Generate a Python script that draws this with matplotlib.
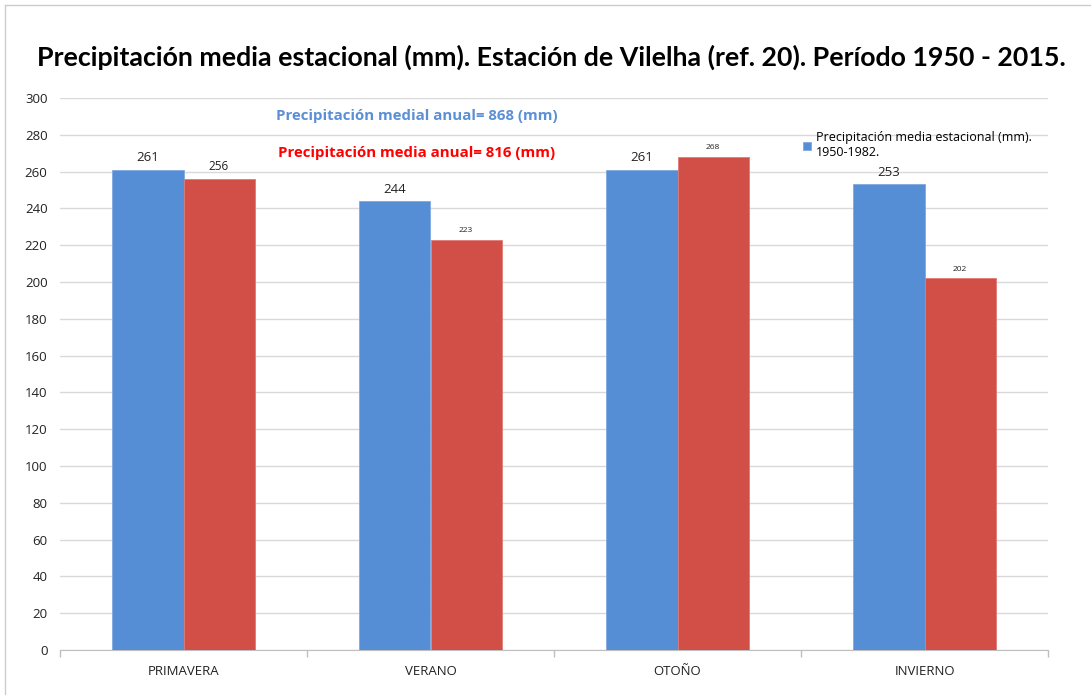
import numpy as np
import matplotlib
matplotlib.use('Agg')
import matplotlib.pyplot as plt
from matplotlib.lines import Line2D

estaciones = ['PRIMAVERA', 'VERANO', 'OTOÑO', 'INVIERNO']
p_1950_1982 = [261, 244, 261, 253]
p_1950_2015 = [256, 223, 268, 202]
red_label_sizes = [8.5, 6, 6, 6]
yticks = list(range(0, 301, 20))

azul = '#558ed5'
rojo = '#d24f48'
plt.rcParams['font.family'] = ['Open Sans', 'DejaVu Sans']

fig = plt.figure(figsize=(10.91, 6.95), dpi=100)
ax = fig.add_axes([60/1091, 1-650/695, 988/1091, 552/695])

x = np.arange(len(estaciones))
w = 0.2875
b1 = ax.bar(x - w/2, p_1950_1982, w, color=azul, edgecolor='#7ea9e1', lw=0.6,
            label='Precipitación media estacional (mm).\n1950-1982.', zorder=3)
b2 = ax.bar(x + w/2, p_1950_2015, w, color=rojo, edgecolor='#e07a74', lw=0.6, zorder=3)

for r, v in zip(b1, p_1950_1982):
    ax.text(r.get_x() + r.get_width()/2, v + 3, str(v), ha='center', va='bottom',
            fontsize=9.5, color='#222222')
for r, v, s in zip(b2, p_1950_2015, red_label_sizes):
    ax.text(r.get_x() + r.get_width()/2, v + 3, str(v), ha='center', va='bottom',
            fontsize=s, color='#222222')

ax.set_xlim(-0.5, 3.5)
ax.set_ylim(0, 300)
ax.set_yticks(yticks)
ax.yaxis.grid(True, color='#d9d9d9', lw=1, zorder=0)
ax.tick_params(axis='y', length=0, labelsize=9.5, colors='#222222', pad=9)
ax.set_xticks(x)
ax.set_xticklabels(estaciones)
ax.tick_params(axis='x', length=0, labelsize=9.5, colors='#222222', pad=11)
# separadores entre categorías
ax.set_xticks(np.arange(-0.5, 4, 1), minor=True)
ax.tick_params(axis='x', which='minor', length=5, color='#bfbfbf', width=1)
for s in ['top', 'right', 'left']:
    ax.spines[s].set_visible(False)
ax.spines['bottom'].set_color('#bfbfbf')

ax.text(0.945, 290, 'Precipitación medial anual= 868 (mm)', ha='center', va='center',
        fontsize=10.8, fontweight='bold', color='#5b8fd6')
ax.text(0.945, 270, 'Precipitación media anual= 816 (mm)', ha='center', va='center',
        fontsize=10.8, fontweight='bold', color='#ff0000')

leg = ax.legend(loc='upper left', bbox_to_anchor=(743/988, 1 - 33/552), frameon=False,
                fontsize=9, handlelength=0.6, handleheight=0.6, handletextpad=0.4,
                borderaxespad=0, borderpad=0)

fig.suptitle('Precipitación media estacional (mm). Estación de Vilelha (ref. 20). Período 1950 - 2015.',
             x=0.505, y=1-57/695, va='center', fontsize=19.3, fontweight='bold',
             family=['Lato', 'DejaVu Sans'])

# marco exterior
fig.add_artist(Line2D([5/1091, 1], [1-5/695, 1-5/695], color='#cccccc', lw=1))
fig.add_artist(Line2D([5/1091, 5/1091], [0, 1-5/695], color='#cccccc', lw=1))

fig.savefig('out.png', dpi=100)
